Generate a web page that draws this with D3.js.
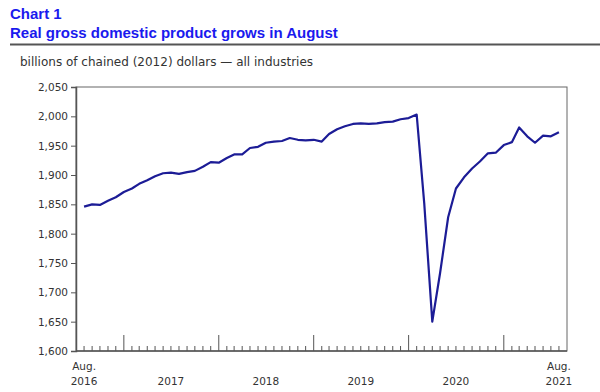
<!DOCTYPE html>
<html>
<head>
<meta charset="utf-8">
<script src="https://cdn.jsdelivr.net/npm/d3@7"></script>
<style>
  body { margin: 0; background: #fff; }
  svg { display: block; }
</style>
</head>
<body>
<svg id="chart"></svg>
<script>
// monthly real GDP, Aug 2016 to Aug 2021 (billions of chained 2012 dollars)
const gdp = [
    1846, 1850, 1849, 1856, 1862,                                     // 2016
    1871, 1877, 1885, 1891, 1898, 1903, 1904, 1902, 1905, 1907, 1914, 1922, // 2017
    1921, 1929, 1935, 1935, 1946, 1948, 1955, 1957, 1958, 1963, 1960, 1959, // 2018
    1960, 1957, 1970, 1978, 1983, 1987, 1988, 1987, 1988, 1990, 1991, 1995, // 2019
    1997, 2003, 1852, 1650, 1733, 1828, 1877, 1896, 1911, 1923, 1937, 1938, // 2020
    1951, 1956, 1981, 1966, 1955, 1967, 1966, 1973                    // 2021
];
const startMonth = new Date(2016, 7, 1);
const yTicks = [1600, 1650, 1700, 1750, 1800, 1850, 1900, 1950, 2000, 2050];
const yearLabels = [2017, 2018, 2019, 2020];

const months = gdp.map((v, i) => d3.timeMonth.offset(startMonth, i));
const data = months.map((m, i) => ({ date: m, value: gdp[i] }));

const width = 600, height = 392;
const plotLeft = 76, plotRight = 567, plotTop = 87, plotBottom = 351;

const svg = d3.select("#chart")
    .attr("width", width)
    .attr("height", height);

const xScale = d3.scaleTime()
    .domain([d3.timeMonth.offset(startMonth, -1), d3.timeMonth.offset(months[months.length - 1], 1)])
    .range([plotLeft, plotRight]);

const yScale = d3.scaleLinear()
    .domain([1600, 2050])
    .range([plotBottom, plotTop]);

// titles
svg.append("text")
    .attr("x", 10).attr("y", 19)
    .style("font", "bold 15px 'Liberation Sans', Arial, sans-serif")
    .style("fill", "#1a1aee")
    .text("Chart 1");
svg.append("text")
    .attr("x", 10).attr("y", 38)
    .style("font", "bold 15px 'Liberation Sans', Arial, sans-serif")
    .style("fill", "#1a1aee")
    .text("Real gross domestic product grows in August");
svg.append("line")
    .attr("x1", 10).attr("x2", 600)
    .attr("y1", 44.5).attr("y2", 44.5)
    .style("stroke", "#555").style("stroke-width", 2);
svg.append("text")
    .attr("x", 20).attr("y", 66)
    .style("font", "12px 'DejaVu Sans', Verdana, sans-serif")
    .style("fill", "#333")
    .text("billions of chained (2012) dollars \u2014 all industries");

// frame
svg.append("rect")
    .attr("x", plotLeft).attr("y", plotTop)
    .attr("width", plotRight - plotLeft).attr("height", plotBottom - plotTop)
    .style("fill", "none").style("stroke", "#666").style("stroke-width", 1);

// y axis
const yAxis = d3.axisLeft(yScale)
    .tickValues(yTicks)
    .tickSize(5)
    .tickPadding(3)
    .tickFormat(d3.format(","));

svg.append("g")
    .attr("class", "yAxis")
    .attr("transform", `translate(${plotLeft}, 0)`)
    .call(yAxis)
    .call(g => g.select(".domain").style("stroke", "#555").style("stroke-width", 1.5))
    .call(g => g.selectAll("line").style("stroke", "#555"))
    .call(g => g.selectAll("text")
        .style("font", "10.5px 'DejaVu Sans', Verdana, sans-serif")
        .style("fill", "#333"));

// x axis: monthly ticks pointing up, longer at January
const xg = svg.append("g")
    .attr("class", "xAxis")
    .attr("transform", `translate(0, ${plotBottom})`);

xg.append("line")
    .attr("x1", plotLeft).attr("x2", plotRight)
    .style("stroke", "#555").style("stroke-width", 1.5);

xg.selectAll("line.tick")
    .data(months)
    .enter()
        .append("line")
        .attr("class", "tick")
        .attr("x1", d => xScale(d)).attr("x2", d => xScale(d))
        .attr("y1", 0)
        .attr("y2", d => d.getMonth() === 0 ? -16 : -5)
        .style("stroke", "#555");

const labelFont = "10.5px 'DejaVu Sans', Verdana, sans-serif";

// end labels (Aug. / year)
[months[0], months[months.length - 1]].forEach(m => {
    xg.append("text")
        .attr("x", xScale(m)).attr("y", 19)
        .attr("text-anchor", "middle")
        .style("font", labelFont).style("fill", "#333")
        .text("Aug.");
    xg.append("text")
        .attr("x", xScale(m)).attr("y", 34)
        .attr("text-anchor", "middle")
        .style("font", labelFont).style("fill", "#333")
        .text(m.getFullYear());
});

// year labels centred on July
xg.selectAll("text.year")
    .data(yearLabels)
    .enter()
        .append("text")
        .attr("class", "year")
        .attr("x", d => xScale(new Date(d, 6, 1)))
        .attr("y", 34)
        .attr("text-anchor", "middle")
        .style("font", labelFont).style("fill", "#333")
        .text(d => d);

// the line
const line = d3.line()
    .x(d => xScale(d.date))
    .y(d => yScale(d.value));

svg.append("path")
    .datum(data)
    .attr("d", line)
    .style("fill", "none")
    .style("stroke", "#1c1c96")
    .style("stroke-width", 2.2)
    .style("stroke-linejoin", "round");
</script>
</body>
</html>
